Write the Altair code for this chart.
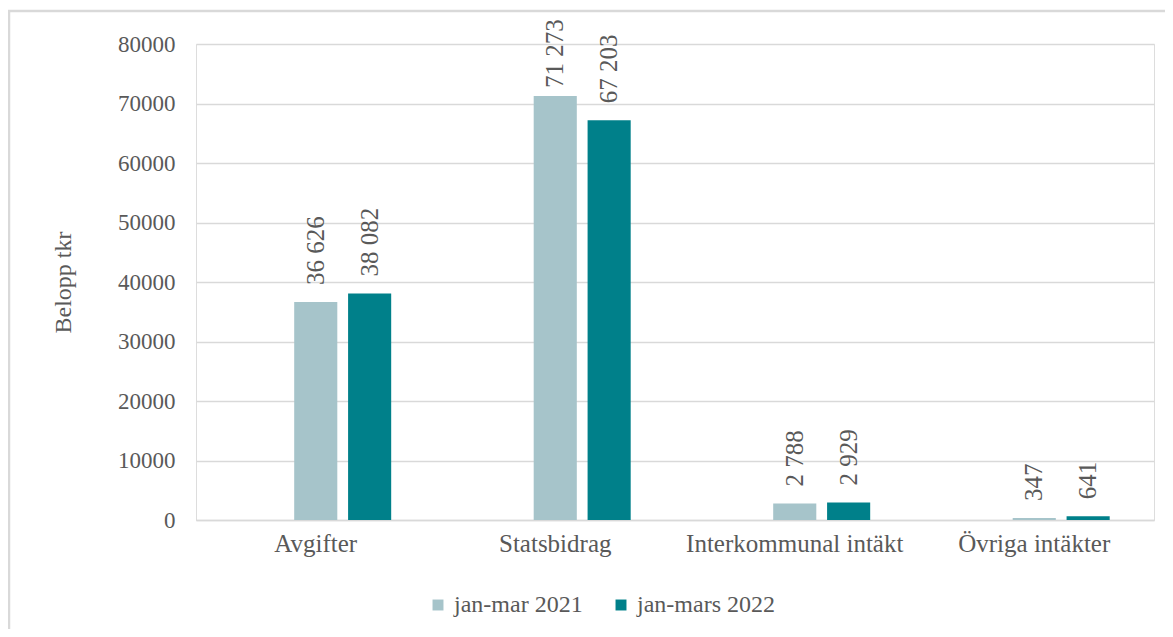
import altair as alt
import pandas as pd

categories = ["Avgifter", "Statsbidrag", "Interkommunal intäkt", "Övriga intäkter"]
series = ["jan-mar 2021", "jan-mars 2022"]
values_2021 = [36626, 71273, 2788, 347]
values_2022 = [38082, 67203, 2929, 641]
colors = ["#A6C4CA", "#00808A"]
y_ticks = [0, 10000, 20000, 30000, 40000, 50000, 60000, 70000, 80000]

rows = []
for s, vals in zip(series, [values_2021, values_2022]):
    for c, v in zip(categories, vals):
        rows.append({"kategori": c, "serie": s, "value": v,
                     "label": f"{v:,}".replace(",", " ")})
df = pd.DataFrame(rows)

FONT = "Liberation Serif"
GRAY = "#595959"

x_enc = alt.X("kategori:N", sort=categories,
              scale=alt.Scale(paddingInner=0.325, paddingOuter=0.1625),
              axis=alt.Axis(title=None, labelAngle=0, labelFontSize=25, labelColor=GRAY,
                            labelFont=FONT, labelLimit=0, ticks=False, domainColor="#d9d9d9",
                            domainWidth=1.5, labelPadding=11))
xoff = alt.XOffset("serie:N", scale=alt.Scale(domain=["_"] + series, paddingInner=0.2,
                                               paddingOuter=0.1))

bars = alt.Chart(df).mark_bar().encode(
    x=x_enc,
    xOffset=xoff,
    y=alt.Y("value:Q", scale=alt.Scale(domain=[0, 80000], nice=False),
            axis=alt.Axis(title="Belopp tkr", values=y_ticks, format="d",
                          labelFontSize=23, labelColor=GRAY, labelFont=FONT,
                          titleFontSize=24, titleColor=GRAY, titleFont=FONT,
                          titleFontWeight="normal", titlePadding=42,
                          ticks=False, domain=False, labelPadding=21,
                          gridColor="#d9d9d9", gridWidth=1.5)),
    color=alt.Color("serie:N", scale=alt.Scale(domain=series, range=colors),
                    legend=alt.Legend(title=None, orient="none", direction="horizontal",
                                      legendX=230, legendY=549, padding=0,
                                      symbolType="square",
                                      symbolSize=120, symbolStrokeWidth=0,
                                      labelFontSize=24, labelColor=GRAY, labelFont=FONT,
                                      labelOffset=4, columnPadding=26, labelLimit=0)),
)

labels = alt.Chart(df).transform_calculate(
    ly="min(datum.value + 2860, 72600)"
).mark_text(angle=270, align="left", baseline="middle", fontSize=25, font=FONT,
            color=GRAY).encode(
    x=alt.X("kategori:N", sort=categories),
    xOffset=xoff,
    y=alt.Y("ly:Q"),
    text="label:N",
)

frame = alt.Chart(pd.DataFrame({"f": [0]})).mark_rect(
    fillOpacity=0, stroke="#d9d9d9", strokeWidth=2.5
).encode(
    x=alt.value(-187), x2=alt.value(1300), y=alt.value(-33), y2=alt.value(900)
)

chart = alt.layer(frame, bars, labels).properties(
    width=958, height=476,
    autosize=alt.AutoSizeParams(type="none"),
    padding={"left": 188, "top": 36, "right": 11, "bottom": 109},
).configure_view(stroke=None).configure(
    background="white", font=FONT
).configure_text(font=FONT).configure_legend(labelFont=FONT)

chart.save("out.html", embed_options={"renderer": "svg", "actions": False})
